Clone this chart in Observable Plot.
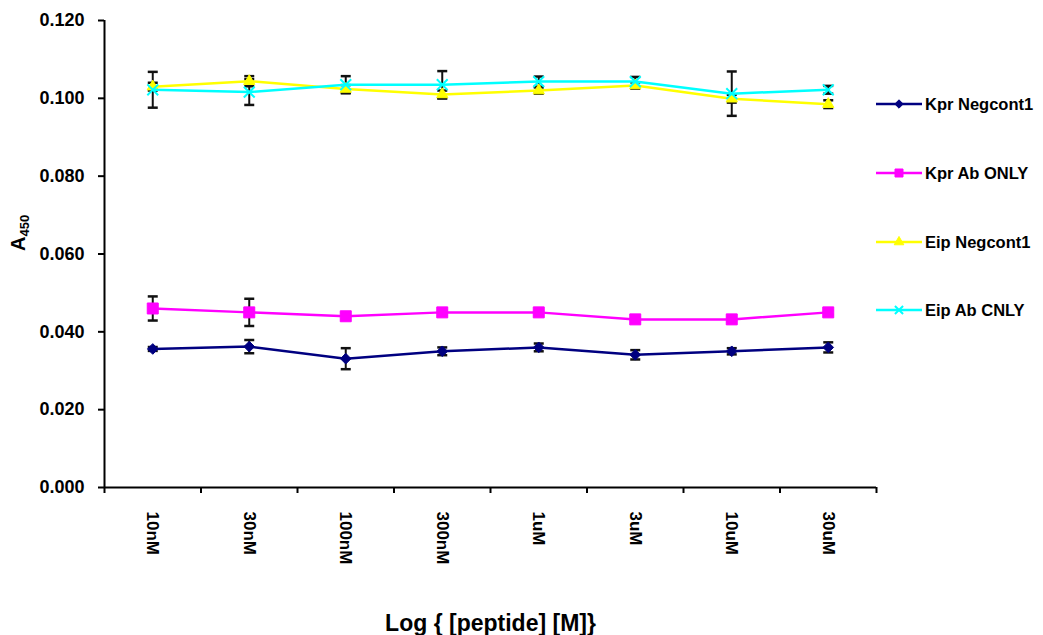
<!DOCTYPE html>
<html>
<head>
<meta charset="utf-8">
<script src="https://cdn.jsdelivr.net/npm/d3@7"></script>
<script src="https://cdn.jsdelivr.net/npm/@observablehq/plot@0.6"></script>
<style>
  body { margin: 0; background: #fff; }
  #chart { width: 1043px; height: 635px; }
</style>
</head>
<body>
<div id="chart"></div>
<script>
// Peptide concentrations (category axis)
const concentrations = ["10nM", "30nM", "100nM", "300nM", "1uM", "3uM", "10uM", "30uM"];
const yTicks = [0, 0.02, 0.04, 0.06, 0.08, 0.10, 0.12];
const xTitle = "Log { [peptide] [M]}";
const seriesNames = ["Kpr Negcont1", "Kpr Ab ONLY", "Eip Negcont1", "Eip Ab CNLY"];

// Mean A450 readings and their error (± half bar length)
const kprNegcont1    = [0.0356, 0.0362, 0.0331, 0.0350, 0.0360, 0.0341, 0.0350, 0.0360];
const kprNegcont1Err = [0.0005, 0.0017, 0.0027, 0.0010, 0.0010, 0.0012, 0.0008, 0.0013];
const kprAbOnly      = [0.0460, 0.0450, 0.0440, 0.0450, 0.0450, 0.0432, 0.0432, 0.0450];
const kprAbOnlyErr   = [0.0031, 0.0035, 0.0008, 0.0006, 0.0006, 0.0006, 0.0006, 0.0006];
const eipNegcont1    = [0.1030, 0.1044, 0.1024, 0.1010, 0.1020, 0.1033, 0.0999, 0.0985];
const eipNegcont1Err = [0.0010, 0.0013, 0.0010, 0.0010, 0.0008, 0.0008, 0.0010, 0.0010];
const eipAbCnly      = [0.1022, 0.1016, 0.1035, 0.1035, 0.1043, 0.1043, 0.1012, 0.1022];
const eipAbCnlyErr   = [0.0046, 0.0033, 0.0022, 0.0035, 0.0013, 0.0012, 0.0057, 0.0010];

const seriesValues = [kprNegcont1, kprAbOnly, eipNegcont1, eipAbCnly];
const seriesErrors = [kprNegcont1Err, kprAbOnlyErr, eipNegcont1Err, eipAbCnlyErr];

// Marker look for each series
const seriesStyle = [
  {color: "#000080", symbol: "diamond2", r: 4.8, filled: true,  legendSize: 45},
  {color: "#ff00ff", symbol: "square",   r: 6.2, filled: true,  legendSize: 64},
  {color: "#ffff00", symbol: "triangle", r: 4.2, filled: true,  legendSize: 40},
  {color: "#00ffff", symbol: "times",    r: 5.0, filled: false, legendSize: 45}
];
const d3Symbols = {diamond2: d3.symbolDiamond2, square: d3.symbolSquare, triangle: d3.symbolTriangle, times: d3.symbolTimes};

// Horizontal cap for error bars
const capSymbol = {
  draw(context, size) {
    const w = Math.sqrt(size / Math.PI);
    context.moveTo(-w, 0);
    context.lineTo(w, 0);
  }
};

const font = "'Liberation Sans', Arial, sans-serif";
const marks = [
  Plot.axisY({ticks: yTicks, tickFormat: d3.format(".3f"), tickSize: 6, tickPadding: 14,
              strokeWidth: 2, fontSize: 18, label: null}),
  Plot.axisX({ticks: d3.range(concentrations.length + 1), tickSize: 6, tickFormat: () => "",
              strokeWidth: 2, label: null}),
  Plot.axisX({ticks: concentrations.map((_, i) => i + 0.5), tickSize: 0, tickPadding: 24, tickRotate: 90,
              tickFormat: t => concentrations[Math.floor(t)], fontSize: 17, label: null}),
  Plot.ruleX([0], {strokeWidth: 2}),
  Plot.ruleY([0], {strokeWidth: 2}),
  Plot.text([xTitle], {frameAnchor: "bottom", lineAnchor: "bottom", dy: 143, fontSize: 23})
];

seriesNames.forEach((name, k) => {
  const rows = concentrations.map((c, i) => ({
    pos: i + 0.5, value: seriesValues[k][i], err: seriesErrors[k][i]
  }));
  const caps = rows.flatMap(d => [{pos: d.pos, y: d.value - d.err}, {pos: d.pos, y: d.value + d.err}]);
  marks.push(
    Plot.ruleX(rows, {x: "pos", y1: d => d.value - d.err, y2: d => d.value + d.err, stroke: "#111", strokeWidth: 2}),
    Plot.dot(caps, {x: "pos", y: "y", symbol: capSymbol, r: 5, fill: "none", stroke: "#111", strokeWidth: 2.5})
  );
});
seriesNames.forEach((name, k) => {
  const st = seriesStyle[k];
  const rows = concentrations.map((c, i) => ({pos: i + 0.5, value: seriesValues[k][i]}));
  marks.push(
    Plot.line(rows, {x: "pos", y: "value", stroke: st.color, strokeWidth: 2.5}),
    Plot.dot(rows, {x: "pos", y: "value", symbol: st.symbol, r: st.r,
                    fill: st.filled ? st.color : "none", stroke: st.color,
                    strokeWidth: st.filled ? 1 : 2})
  );
});

const chart = Plot.plot({
  width: 1043,
  height: 635,
  marginLeft: 104,
  marginRight: 167,
  marginTop: 20,
  marginBottom: 148,
  style: {fontFamily: font, fontWeight: "bold", color: "black", background: "white", overflow: "visible"},
  x: {type: "linear", domain: [0, concentrations.length]},
  y: {type: "linear", domain: [0, 0.12]},
  marks
});
document.getElementById("chart").appendChild(chart);

// Y-axis title with subscript
const svg = d3.select(chart);
const yTitle = svg.append("text")
  .attr("transform", "translate(25,251) rotate(-90)")
  .attr("text-anchor", "start")
  .attr("font-size", 20)
  .attr("fill", "black");
yTitle.append("tspan").text("A");
yTitle.append("tspan").attr("font-size", 13).attr("dy", 4).text("450");

// Legend on the right
const legendTop = [104, 173, 242, 310];
seriesNames.forEach((name, k) => {
  const st = seriesStyle[k];
  const g = svg.append("g").attr("transform", `translate(876,${legendTop[k]})`);
  g.append("line").attr("x1", 0).attr("x2", 46).attr("y1", 0).attr("y2", 0)
    .attr("stroke", st.color).attr("stroke-width", 2.5);
  g.append("path")
    .attr("transform", "translate(23,0)")
    .attr("d", d3.symbol(d3Symbols[st.symbol], st.legendSize)())
    .attr("fill", st.filled ? st.color : "none")
    .attr("stroke", st.color)
    .attr("stroke-width", st.filled ? 1 : 2);
  g.append("text").attr("x", 49).attr("dy", "0.36em").attr("text-anchor", "start")
    .attr("font-size", 16.5).attr("fill", "black").text(name);
});
</script>
</body>
</html>
